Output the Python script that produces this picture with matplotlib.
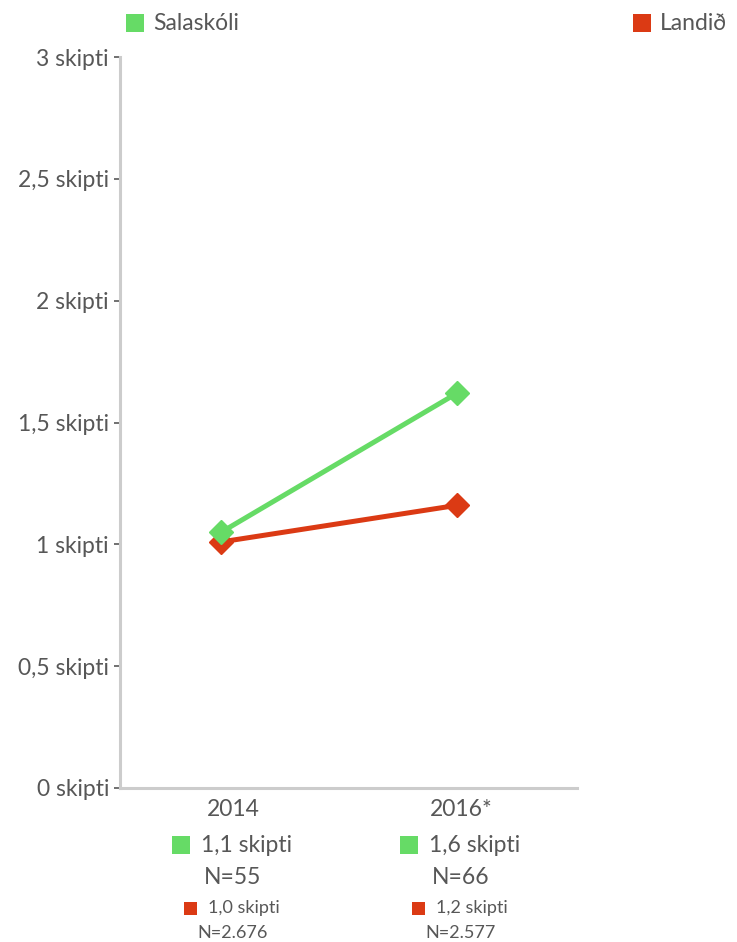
import matplotlib
matplotlib.use("Agg")
import matplotlib.pyplot as plt
from matplotlib.patches import Rectangle

plt.rcParams['font.family'] = ['Lato', 'DejaVu Sans']

# Gögn
ar = ["2014", "2016*"]
salaskoli = [1.05, 1.62]
landid = [1.01, 1.16]
salaskoli_txt = ["1,1 skipti", "1,6 skipti"]
salaskoli_n = ["N=55", "N=66"]
landid_txt = ["1,0 skipti", "1,2 skipti"]
landid_n = ["N=2.676", "N=2.577"]
yticks = [0, 0.5, 1, 1.5, 2, 2.5, 3]
ytick_labels = ["0 skipti", "0,5 skipti", "1 skipti", "1,5 skipti", "2 skipti", "2,5 skipti", "3 skipti"]

graent = "#66DB66"
rautt = "#DB3A14"
texti = "#575757"

W, H = 737, 942
fig = plt.figure(figsize=(W / 100, H / 100), dpi=100)
ax = fig.add_axes([120 / W, 1 - 788 / H, 457 / W, (788 - 57) / H])

x = list(range(len(ar)))
ax.plot(x, landid, color=rautt, lw=3.6, marker='D', ms=12.5, zorder=3)
ax.plot(x, salaskoli, color=graent, lw=3.6, marker='D', ms=12.5, zorder=4)

ax.set_xlim(-0.43, 1.51)
ax.set_ylim(0, 3)
ax.set_yticks(yticks)
ax.set_yticklabels(ytick_labels, fontsize=16.5, color=texti)
ax.set_xticks([])
ax.tick_params(axis='y', length=4, width=1.2, color=texti, pad=4)

for s in ['top', 'right']:
    ax.spines[s].set_visible(False)
for s in ['left', 'bottom']:
    ax.spines[s].set_color("#cccccc")
    ax.spines[s].set_linewidth(2.2)

# Legend efst
def ferningur(x0, y0, st, lit):
    fig.add_artist(Rectangle((x0 / W, 1 - (y0 + st) / H), st / W, st / H,
                             color=lit, transform=fig.transFigure, lw=0))

ferningur(126, 14, 18, graent)
fig.text(153 / W, 1 - 23 / H, "Salaskóli", fontsize=16.5, color=texti, va='center', ha='left')
ferningur(633, 14, 18, rautt)
fig.text(660 / W, 1 - 23 / H, "Landið", fontsize=16.5, color=texti, va='center', ha='left')

# Textar undir ásnum
midjur = [233, 461]
for i, cx in enumerate(midjur):
    fig.text(cx / W, 1 - 809 / H, ar[i], fontsize=16.5, color=texti, ha='center', va='center')
    ferningur(cx - 61, 836, 18, graent)
    fig.text((cx - 32) / W, 1 - 845 / H, salaskoli_txt[i], fontsize=16.5, color=texti,
             ha='left', va='center')
    fig.text(cx / W, 1 - 878 / H, salaskoli_n[i], fontsize=16.5, color=texti, ha='center', va='center')
    ferningur(cx - 49, 902, 13, rautt)
    fig.text((cx - 25) / W, 1 - 908 / H, landid_txt[i], fontsize=13, color=texti,
             ha='left', va='center')
    fig.text(cx / W, 1 - 933 / H, landid_n[i], fontsize=13, color=texti, ha='center', va='center')

fig.savefig("out.png", dpi=100)
